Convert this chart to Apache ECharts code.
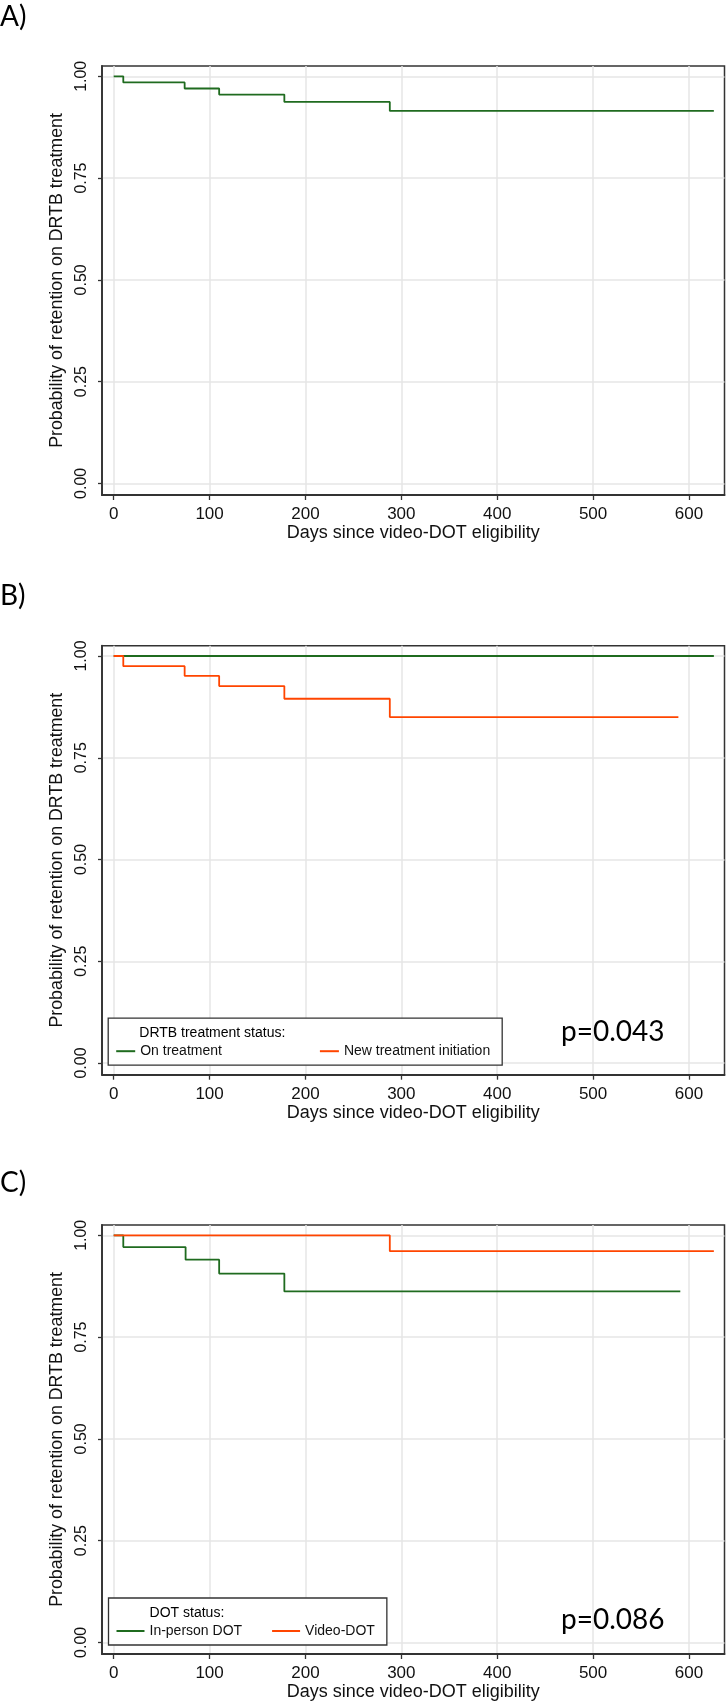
<!DOCTYPE html>
<html>
<head>
<meta charset="utf-8">
<script src="https://cdn.jsdelivr.net/npm/echarts@6.0.0/dist/echarts.min.js"></script>
<style>
  html, body { margin: 0; padding: 0; background: #fff; }
  #chart { width: 726px; height: 1703px; }
</style>
</head>
<body>
<div id="chart"></div>
<script>
// ---------- data ----------
var xTicks = [0, 100, 200, 300, 400, 500, 600];
var yTicks = [0, 0.25, 0.5, 0.75, 1];

// Panel A: overall
var aTimes = [0, 10, 74, 110, 178, 288, 626];
var aSurv  = [1, 0.985, 0.970, 0.955, 0.937, 0.915, 0.915];

// Panel B: DRTB treatment status
var bOnTimes  = [0, 626];
var bOnSurv   = [1, 1];
var bNewTimes = [0, 10, 74, 110, 178, 288, 589];
var bNewSurv  = [1, 0.975, 0.951, 0.926, 0.895, 0.850, 0.850];

// Panel C: DOT status
var cInTimes  = [0, 10, 75, 110, 178, 591];
var cInSurv   = [1, 0.971, 0.940, 0.906, 0.862, 0.862];
var cVidTimes = [0, 288, 626];
var cVidSurv  = [1, 0.961, 0.961];

var panelLabels = ['A)', 'B)', 'C)'];
var pValues = ['p=0.043', 'p=0.086'];
var legendTitles = ['DRTB treatment status:', 'DOT status:'];
var xName = 'Days since video-DOT eligibility';
var yName = 'Probability of retention on DRTB treatment';

// ---------- styling ----------
var GREEN = '#1f6b1f';
var ORANGE = '#ff4500';
var AXIS = '#333333';
var GRIDC = '#e6e6e6';
var FONT = "'Liberation Sans', Arial, sans-serif";
var BIG = "Lato, 'Open Sans', sans-serif";

function pairs(t, s) { return t.map(function (v, i) { return [v, s[i]]; }); }

var gridTops = [66, 645.7, 1225];
var grids = gridTops.map(function (t) {
  return { left: 102, top: t, width: 622.5, height: 429, show: true,
           borderColor: AXIS, borderWidth: 1.5, backgroundColor: '#fff' };
});

var xAxes = gridTops.map(function (t, i) {
  return {
    type: 'value', gridIndex: i, min: -12.2, max: 637.1,
    name: xName, nameLocation: 'middle', nameGap: 28,
    nameTextStyle: { fontFamily: FONT, fontSize: 18, color: '#111' },
    axisLine: { show: true, onZero: false, lineStyle: { color: AXIS, width: 1.8 } },
    axisTick: { show: true, length: 5, customValues: xTicks, lineStyle: { color: AXIS, width: 1.3 } },
    axisLabel: { customValues: xTicks, margin: 11, fontFamily: FONT, fontSize: 17, color: '#111' },
    splitLine: { show: true, lineStyle: { color: GRIDC, width: 1.5 } }
  };
});

var yAxes = gridTops.map(function (t, i) {
  return {
    type: 'value', gridIndex: i, min: -0.0287, max: 1.0253,
    name: yName, nameLocation: 'middle', nameGap: 31,
    nameTextStyle: { fontFamily: FONT, fontSize: 17.8, color: '#111' },
    axisLine: { show: true, onZero: false, lineStyle: { color: AXIS, width: 1.8 } },
    axisTick: { show: true, length: 4, customValues: yTicks, lineStyle: { color: AXIS, width: 1.3 } },
    axisLabel: { customValues: yTicks, rotate: 90, margin: 12, fontFamily: FONT, fontSize: 16, color: '#111',
                 formatter: function (v) { return v.toFixed(2); } },
    splitLine: { show: true, lineStyle: { color: GRIDC, width: 1.5 } }
  };
});

function km(name, idx, t, s, color) {
  return {
    name: name, type: 'line', xAxisIndex: idx, yAxisIndex: idx,
    step: 'end', symbol: 'none', data: pairs(t, s),
    lineStyle: { color: color, width: 1.8 }, itemStyle: { color: color },
    emphasis: { disabled: true }, silent: true, z: 3
  };
}

var series = [
  km('Overall', 0, aTimes, aSurv, GREEN),
  km('On treatment', 1, bOnTimes, bOnSurv, GREEN),
  km('New treatment initiation', 1, bNewTimes, bNewSurv, ORANGE),
  km('In-person DOT', 2, cInTimes, cInSurv, GREEN),
  km('Video-DOT', 2, cVidTimes, cVidSurv, ORANGE)
];

var legendBase = {
  orient: 'horizontal', icon: 'rect', itemHeight: 2, selectedMode: false,
  borderColor: AXIS, borderWidth: 1.3, backgroundColor: '#fff', borderRadius: 0,
  textStyle: { fontFamily: FONT, fontSize: 14, color: '#111' }
};
var legends = [
  Object.assign({}, legendBase, { data: ['On treatment', 'New treatment initiation'],
    left: 108.2, top: 1018.2, padding: [26, 12, 7, 8], itemWidth: 19, itemGap: 98 }),
  Object.assign({}, legendBase, { data: ['In-person DOT', 'Video-DOT'],
    left: 108.5, top: 1598, padding: [26, 12, 7, 8], itemWidth: 28, itemGap: 30 })
];

function txt(s, x, y, size, family) {
  return { type: 'text', x: x, y: y, z: 100, silent: true,
           style: { text: s, fill: '#000', font: size + 'px ' + family, textVerticalAlign: 'middle', verticalAlign: 'middle' } };
}

var graphics = [
  txt(panelLabels[0], 0, 17, 28, BIG),
  txt(panelLabels[1], 0, 595.8, 28, BIG),
  txt(panelLabels[2], 0, 1183.4, 28, BIG),
  txt(pValues[0], 561, 1032, 28, BIG),
  txt(pValues[1], 561, 1619.5, 28, BIG),
  txt(legendTitles[0], 139.3, 1033.6, 14, FONT),
  txt(legendTitles[1], 149.6, 1613.5, 14, FONT)
];

var chart = echarts.init(document.getElementById('chart'), null, { renderer: 'canvas' });
chart.setOption({
  animation: false,
  backgroundColor: '#fff',
  grid: grids,
  xAxis: xAxes,
  yAxis: yAxes,
  legend: legends,
  series: series,
  graphic: graphics
});
</script>
</body>
</html>
